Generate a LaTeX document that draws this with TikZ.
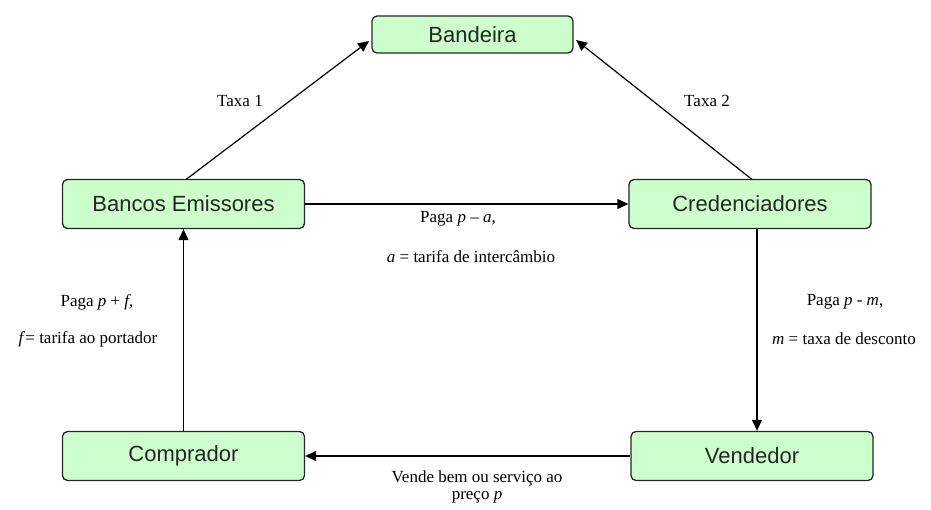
\documentclass[tikz,border=0pt]{standalone}
\usepackage{fontspec}
\setmainfont{Liberation Serif}
\newfontfamily\boxfont{Liberation Sans}
\usetikzlibrary{arrows.meta}
\begin{document}
\begin{tikzpicture}[x=1pt,y=-1pt,
  ent/.style={draw=black!85, line width=1.3pt, fill=green!20, rounded corners=5pt,
    inner sep=0pt, minimum width=242pt, minimum height=49pt,
    font=\boxfont\fontsize{22}{26}\selectfont, text=black!85},
  conn/.style={line width=1.2pt, -{Triangle[length=11pt,width=10pt]}},
  lab/.style={font=\fontsize{17}{20}\selectfont, align=center, inner sep=0pt}]
\useasboundingbox (0,0) rectangle (931,509);
\node[ent, minimum width=201pt, minimum height=37pt] (band) at (472.5,34.5) {Bandeira};
\node[ent] (banc) at (183.5,204) {Bancos Emissores};
\node[ent] (cred) at (750,204) {Credenciadores};
\node[ent] (comp) at (183.5,456) {Comprador};
\node[ent] (vend) at (752,456) {Vendedor};
\coordinate (t1) at (369,41);
\coordinate (t2) at (576,40);
\coordinate (s1) at (186,179.5);
\coordinate (s2) at (752,179.5);
\draw[conn] (s1) -- (t1);
\draw[conn] (s2) -- (t2);
\draw[conn] (banc.east) -- (cred.west);
\draw[conn] (cred.south -| 757,0) -- (vend.north -| 757,0);
\draw[conn] (vend.west) -- (comp.east);
\draw[conn] (comp.north) -- (banc.south);
\node[lab] (l1) at (240,101) {Taxa 1};
\node[lab] (l2) at (707,101) {Taxa 2};
\node[lab] (l3) at (458,219) {Paga \textit{p} -- \textit{a},};
\node[lab] (l4) at (471,257) {\textit{a} = tarifa de intercâmbio};
\node[lab] (l5) at (97,302) {Paga \textit{p} + \textit{f},};
\node[lab] (l6) at (88,339) {\textit{f}= tarifa ao portador};
\node[lab] (l7) at (845,302) {Paga \textit{p} - \textit{m},};
\node[lab] (l8) at (844,339) {\textit{m} = taxa de desconto};
\node[lab] (l9) at (477,478) {Vende bem ou serviço ao};
\node[lab] (l10) at (477,497) {preço \textit{p}};
\end{tikzpicture}
\end{document}
